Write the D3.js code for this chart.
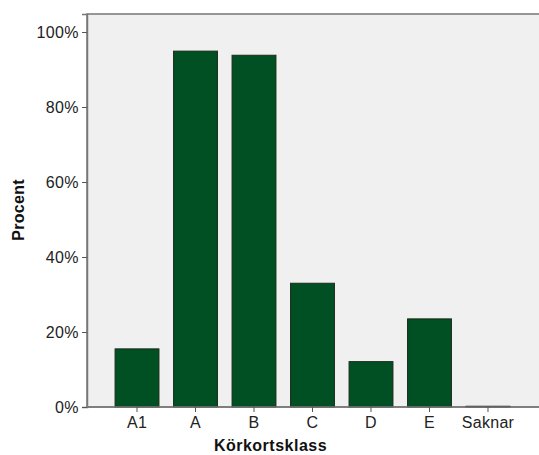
<!DOCTYPE html>
<html><head><meta charset="utf-8">
<script src="https://cdn.jsdelivr.net/npm/d3@7/dist/d3.min.js"></script>
<style>body{margin:0;background:#fff;} text{font-family:"Liberation Sans",Arial,sans-serif;}</style>
</head><body><svg id="c" width="539" height="455"></svg>
<script>
const categories = ["A1","A","B","C","D","E","Saknar"];
const values = [15.5, 94.9, 93.8, 33.0, 12.1, 23.5, 0.2];
const yTicks = [0,20,40,60,80,100];

const svg = d3.select("#c");
const L=87, R=538, T=14, B=407;
const x = d3.scaleBand().domain(categories).range([L,R]).paddingInner(0.25).paddingOuter(0.48);
const y = d3.scaleLinear().domain([0,104.8]).range([B,T]);

svg.append("rect").attr("x",L).attr("y",T).attr("width",R-L+2).attr("height",B-T)
  .attr("fill","#f0f0f0").attr("stroke","#777").attr("stroke-width",1.5);

svg.selectAll("rect.bar").data(values).enter().append("rect").attr("class","bar")
  .attr("x",(d,i)=>x(categories[i])).attr("width",x.bandwidth())
  .attr("y",d=>y(d)).attr("height",d=>B-y(d))
  .attr("fill","#005023").attr("stroke","#1a2a1a").attr("stroke-width",1);

const ya = d3.axisLeft(y).tickValues(yTicks).tickFormat(d=>d+"%").tickSize(5).tickPadding(3);
const gy = svg.append("g").attr("transform",`translate(${L},0)`).call(ya);
gy.select(".domain").attr("stroke","#777").attr("stroke-width",1.5);
gy.selectAll(".tick line").attr("stroke","#555");
gy.selectAll("text").attr("font-size",16).attr("letter-spacing",0.4).attr("fill","#222");

const xa = d3.axisBottom(x).tickSize(5).tickPadding(5);
const gx = svg.append("g").attr("transform",`translate(0,${B})`).call(xa);
gx.select(".domain").attr("stroke","#777").attr("stroke-width",1.5).attr("d",`M${L},0H${R+2}`);
gx.selectAll(".tick line").attr("stroke","#555");
gx.selectAll("text").attr("font-size",16).attr("letter-spacing",0.3).attr("fill","#222");

svg.append("text").attr("x",270.5).attr("y",451).attr("text-anchor","middle")
  .attr("font-size",16).attr("letter-spacing",0.5).attr("font-weight","bold").attr("fill","#111").text("Körkortsklass");
svg.append("text").attr("transform","translate(23.5,210) rotate(-90)").attr("text-anchor","middle")
  .attr("font-size",16).attr("letter-spacing",0.3).attr("font-weight","bold").attr("fill","#111").text("Procent");
</script></body></html>
